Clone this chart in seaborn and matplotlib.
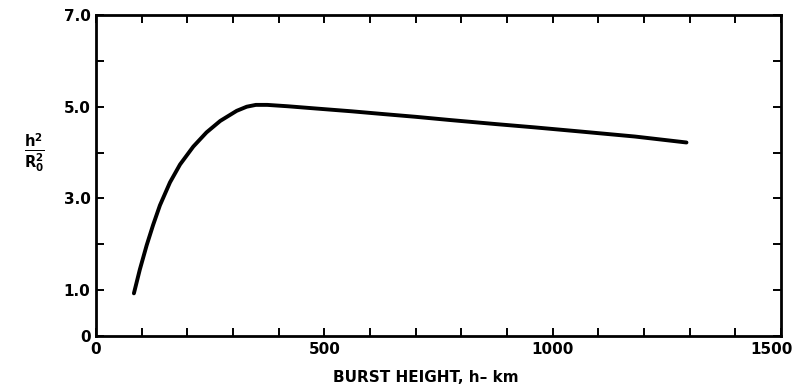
import matplotlib
matplotlib.use("Agg")
import matplotlib.pyplot as plt
import matplotlib.transforms as mtransforms
import seaborn as sns
import pandas as pd

burst_height_km = [83, 96, 111, 125, 140, 162, 184, 213, 242, 272, 308, 330, 350, 375,
                   420, 483, 560, 629, 700, 775, 877, 960, 1060, 1180, 1293]
ratio = [0.93, 1.45, 1.98, 2.42, 2.85, 3.35, 3.74, 4.13, 4.44, 4.69, 4.91, 5.00, 5.04, 5.04,
         5.01, 4.96, 4.90, 4.84, 4.78, 4.71, 4.62, 4.55, 4.46, 4.35, 4.22]
x_tick_values = list(range(0, 1501, 100))
x_tick_labels = ["0", "", "", "", "", "500", "", "", "", "", "1000", "", "", "", "", "1500"]
y_tick_values = [0, 1, 2, 3, 4, 5, 6, 7]
y_tick_labels = ["0", "1.0", "", "3.0", "", "5.0", "", "7.0"]

sns.set_style("ticks")
plt.rcParams['font.family'] = ['DejaVu Sans']

df = pd.DataFrame({"h": burst_height_km, "r": ratio})

fig = plt.figure(figsize=(7.98, 3.90), dpi=100)
ax = fig.add_axes([0.1203, 0.1385, 0.8584, 0.823])
sns.lineplot(data=df, x="h", y="r", ax=ax, color="black", linewidth=2.8,
             solid_capstyle="round", solid_joinstyle="round")

ax.set_xlim(0, 1500)
ax.set_ylim(0, 7)
ax.set_xticks(x_tick_values)
ax.set_xticklabels(x_tick_labels)
ax.set_yticks(y_tick_values)
ax.set_yticklabels(y_tick_labels)

ax.tick_params(direction="in", length=6, width=1.4, top=True, right=True,
               labelsize=11, pad=4, colors="black")
for lbl in ax.get_xticklabels() + ax.get_yticklabels():
    lbl.set_fontweight("bold")
# keep the last x label inside the figure
last = ax.get_xticklabels()[-1]
last.set_transform(last.get_transform() +
                   mtransforms.ScaledTranslation(-10 / 100, 0, fig.dpi_scale_trans))
for sp in ax.spines.values():
    sp.set_linewidth(2.0)
    sp.set_color("black")

ax.set_xlabel("BURST HEIGHT, h\u2013 km", fontsize=11, fontweight="bold", color="black")
ax.xaxis.set_label_coords(0.482, -0.105)
ax.set_ylabel(r"$\mathbf{\frac{h^2}{R_0^2}}$", fontsize=15, rotation=0, color="black",
              va="center")
ax.yaxis.set_label_coords(-0.09, 0.57)

fig.savefig("out.png", dpi=100)
